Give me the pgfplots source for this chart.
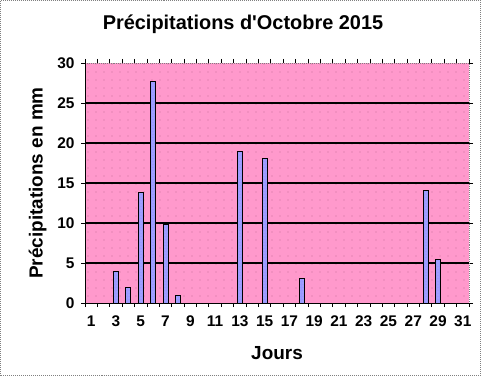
\documentclass[border=0pt]{standalone}
\usepackage{fontspec}
\setmainfont{Liberation Sans}[Ligatures=TeXOff]
\usepackage{pgfplots}
\pgfplotsset{compat=1.18}
\usetikzlibrary{patterns}
\definecolor{pinkbg}{HTML}{FF99CC}
\definecolor{dotpink}{HTML}{C86E9A}
\definecolor{barblue}{HTML}{9999FF}
\pgfdeclarepatternformonly{sparsedots}{\pgfqpoint{-1bp}{-1bp}}{\pgfqpoint{1bp}{1bp}}{\pgfqpoint{8bp}{8bp}}{\pgfpathcircle{\pgfqpoint{0bp}{0bp}}{0.6bp}\pgfusepath{fill}}
\pgfdeclarepatternformonly{bardots}{\pgfqpoint{-1bp}{-1bp}}{\pgfqpoint{1bp}{1bp}}{\pgfqpoint{3bp}{3bp}}{\pgfpathcircle{\pgfqpoint{0bp}{0bp}}{0.4bp}\pgfusepath{fill}}
\begin{document}
\begin{tikzpicture}[x=1bp,y=1bp]
\path[use as bounding box] (0,0) rectangle (481,376);
\draw[gray, densely dotted, line width=1bp] (0.5,0.5) rectangle (480.5,375.5);
\begin{axis}[at={(85bp,73bp)}, anchor=south west, scale only axis,
  width=384bp, height=240bp,
  xmin=0.5, xmax=31.5, ymin=0, ymax=30,
  axis background/.style={fill=pinkbg, postaction={pattern=sparsedots, pattern color=dotpink}},
  axis line style={draw=gray, densely dotted, line width=1bp},
  tick align=outside, major tick length=4bp,
  tick style={black, line width=0.8bp, solid},
  xtick={0.5,1.5,...,31.5}, xticklabels={},
  extra x ticks={1,3,...,31},
  extra x tick style={major tick length=0pt, grid=none},
  xticklabel style={yshift=-9bp},
  yticklabel style={xshift=-3bp},
  ytick={0,5,...,30},
  extra y ticks={5,10,15,20,25}, extra y tick labels={},
  extra y tick style={major tick length=0pt, ymajorgrids=true, major grid style={black, line width=1.6bp, solid}},
  /pgf/number format/assume math mode=true,
  ticklabel style={font=\bfseries\fontsize{15.5}{17}\selectfont},
  xlabel={Jours}, ylabel={Précipitations en mm},
  label style={font=\bfseries\fontsize{19}{22}\selectfont},
  xlabel style={yshift=-9bp},
  ylabel style={yshift=0bp},
]
\addplot[ybar, bar width=0.4, fill=barblue, draw=black, line width=0.8bp,
  postaction={pattern=bardots, pattern color=white!80!barblue}]
coordinates {(3,4.0) (4,2.0) (5,13.8) (6,27.7) (7,9.8) (8,0.9) (13,19.0) (15,18.1) (18,3.1) (28,14.1) (29,5.4)};
\draw[black, line width=1bp] (rel axis cs:0,1) -- (rel axis cs:0,0) -- (rel axis cs:1,0);
\end{axis}
\node[font=\bfseries\fontsize{20}{24}\selectfont] at (243,352) {Précipitations d'Octobre 2015};
\end{tikzpicture}
\end{document}
